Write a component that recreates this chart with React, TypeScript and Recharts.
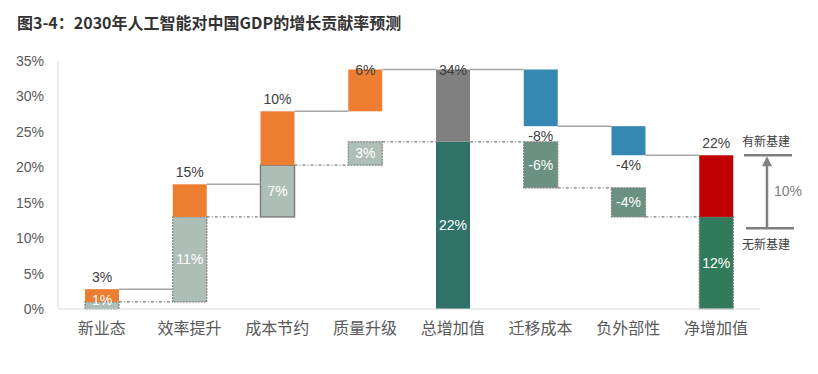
import { Bar, BarChart, LabelList, XAxis, YAxis } from "recharts";

const categories = ["新业态", "效率提升", "成本节约", "质量升级", "总增加值", "迁移成本", "负外部性", "净增加值"];
// lower block (without new infrastructure path) and upper block, in %
const lowerFrom = [0, 1, 13, 20.3, 0, 17.1, 13, 0];
const lowerTo = [1, 13, 20.3, 23.6, 23.6, 23.6, 17.1, 13];
const upperFrom = [1, 13, 20.3, 27.9, 23.6, 25.8, 21.7, 13];
const upperTo = [2.8, 17.6, 27.9, 33.8, 33.8, 33.8, 25.8, 21.7];
const lowerLabels = ["1%", "11%", "7%", "3%", "22%", "-6%", "-4%", "12%"];
const upperLabels = ["3%", "15%", "10%", "6%", "34%", "-8%", "-4%", "22%"];
// connector levels between bar i and bar i+1
const solidLevels = [2.8, 17.6, 27.9, 33.8, 33.8, 25.8, 21.7];
const dottedLevels = [1, 13, 20.3, 23.6, 23.6, 17.1, 13];
const yTicks = [0, 5, 10, 15, 20, 25, 30, 35];
const annotation = { top: 21.7, bottom: 11.4, diff: "10%", upper: "有新基建", lower: "无新基建" };

const lowerColors = ["#AEBFB8", "#AEBFB8", "#AEBFB8", "#AEBFB8", "#2E7268", "#6A9181", "#6A9181", "#317B5C"];
const upperColors = ["#ED7D31", "#ED7D31", "#ED7D31", "#ED7D31", "#808080", "#3588B2", "#3588B2", "#C00000"];
const lowerBorder = ["dot", "dot", "solid", "dot", "none", "dot", "dot", "dot"];

const W = 818;
const H = 374;
const M = { top: 61, right: 58, bottom: 35, left: 0 };
const Y_W = 58;
const X_H = 30;
const BAR = 34;
const plotH = H - M.top - M.bottom - X_H;
const plotW = W - M.left - M.right - Y_W;
const step = plotW / categories.length;
const yPx = (v: number) => M.top + (1 - v / 35) * plotH;

const data = categories.map((name, i) => ({
  name,
  lower: [lowerFrom[i], lowerTo[i]],
  upper: [upperFrom[i], upperTo[i]],
}));

const numFont = "'Liberation Sans', Arial, sans-serif";
const cjkFont = "'Noto Sans CJK SC', sans-serif";

function LowerShape(props: any) {
  const { x, y, width, height, index } = props;
  const b = lowerBorder[index];
  const lv = dottedLevels[index];
  return (
    <g>
      {lv !== undefined && (
        <line
          x1={x + width}
          x2={x + step}
          y1={yPx(lv)}
          y2={yPx(lv)}
          stroke="#7F7F7F"
          strokeWidth={1.2}
          strokeDasharray="3 2 1 2"
        />
      )}
      <rect
        x={x}
        y={y}
        width={width}
        height={height}
        fill={lowerColors[index]}
        stroke={b === "none" ? "none" : "#7F7F7F"}
        strokeWidth={b === "solid" ? 1.5 : 1.2}
        strokeDasharray={b === "dot" ? "2 1" : undefined}
      />
    </g>
  );
}

function UpperShape(props: any) {
  const { x, y, width, height, index } = props;
  const lv = solidLevels[index];
  return (
    <g>
      {lv !== undefined && (
        <line x1={x + width} x2={x + step} y1={yPx(lv)} y2={yPx(lv)} stroke="#A6A6A6" strokeWidth={1.5} />
      )}
      <rect x={x} y={y} width={width} height={height} fill={upperColors[index]} />
    </g>
  );
}

function UpperLabel(props: any) {
  const { x, y, width, height, index } = props;
  const txt = upperLabels[index];
  const neg = txt.startsWith("-");
  const cy = neg ? y + height + 10 : Math.max(y - 12, M.top + 9);
  return (
    <text x={x + width / 2} y={cy} textAnchor="middle" dominantBaseline="central" fontSize={14} fill="#404040" fontFamily={numFont}>
      {txt}
    </text>
  );
}

function LowerLabel(props: any) {
  const { x, y, width, height, index } = props;
  const cy = height < 16 ? y - 2 : y + height / 2;
  return (
    <text x={x + width / 2} y={cy} textAnchor="middle" dominantBaseline="central" fontSize={14} fill="#FFFFFF" fontFamily={numFont}>
      {lowerLabels[index]}
    </text>
  );
}

export default function App() {
  const ax = 767;
  return (
    <div style={{ position: "absolute", left: 0, top: 0, width: W, height: H, background: "#fff" }}>
      <div
        style={{
          position: "absolute",
          left: 17,
          top: 10,
          fontFamily: cjkFont,
          fontWeight: 700,
          fontSize: 16,
          color: "#333",
          whiteSpace: "nowrap",
        }}
      >
        图3-4：2030年人工智能对中国GDP的增长贡献率预测
      </div>
      <BarChart width={W} height={H} data={data} margin={M} barSize={BAR} barGap={-BAR}>
        <XAxis
          dataKey="name"
          tickLine={false}
          axisLine={{ stroke: "#D9D9D9" }}
          tick={{ fontSize: 16, fill: "#595959", fontFamily: cjkFont }}
          tickMargin={8}
          height={X_H}
          interval={0}
        />
        <YAxis
          domain={[0, 35]}
          ticks={yTicks}
          tickFormatter={(v: number) => `${v}%`}
          tickLine={false}
          axisLine={{ stroke: "#D9D9D9" }}
          tick={{ fontSize: 14, fill: "#595959", fontFamily: numFont }}
          width={Y_W}
          tickMargin={8}
        />
        <Bar dataKey="lower" isAnimationActive={false} shape={LowerShape}>
          <LabelList dataKey="name" content={LowerLabel} />
        </Bar>
        <Bar dataKey="upper" isAnimationActive={false} shape={UpperShape}>
          <LabelList dataKey="name" content={UpperLabel} />
        </Bar>
      </BarChart>
      <svg width={W} height={H} style={{ position: "absolute", left: 0, top: 0, pointerEvents: "none" }}>
        <line x1={744} x2={792} y1={yPx(annotation.top)} y2={yPx(annotation.top)} stroke="#808080" strokeWidth={2.5} />
        <line x1={746} x2={794} y1={yPx(annotation.bottom)} y2={yPx(annotation.bottom)} stroke="#808080" strokeWidth={2.5} />
        <line x1={ax} x2={ax} y1={yPx(annotation.bottom)} y2={yPx(annotation.top) + 8} stroke="#808080" strokeWidth={2.5} />
        <polygon
          points={`${ax},${yPx(annotation.top) + 1} ${ax - 5},${yPx(annotation.top) + 11} ${ax + 5},${yPx(annotation.top) + 11}`}
          fill="#808080"
        />
        <text x={788} y={(yPx(annotation.top) + yPx(annotation.bottom)) / 2 - 1} textAnchor="middle" dominantBaseline="central" fontSize={14} fill="#808080" fontFamily={numFont}>
          {annotation.diff}
        </text>
        <text x={766} y={yPx(annotation.top) - 15} textAnchor="middle" dominantBaseline="central" fontSize={12} fill="#404040" fontFamily={cjkFont}>
          {annotation.upper}
        </text>
        <text x={766} y={yPx(annotation.bottom) + 15} textAnchor="middle" dominantBaseline="central" fontSize={12} fill="#404040" fontFamily={cjkFont}>
          {annotation.lower}
        </text>
      </svg>
    </div>
  );
}
